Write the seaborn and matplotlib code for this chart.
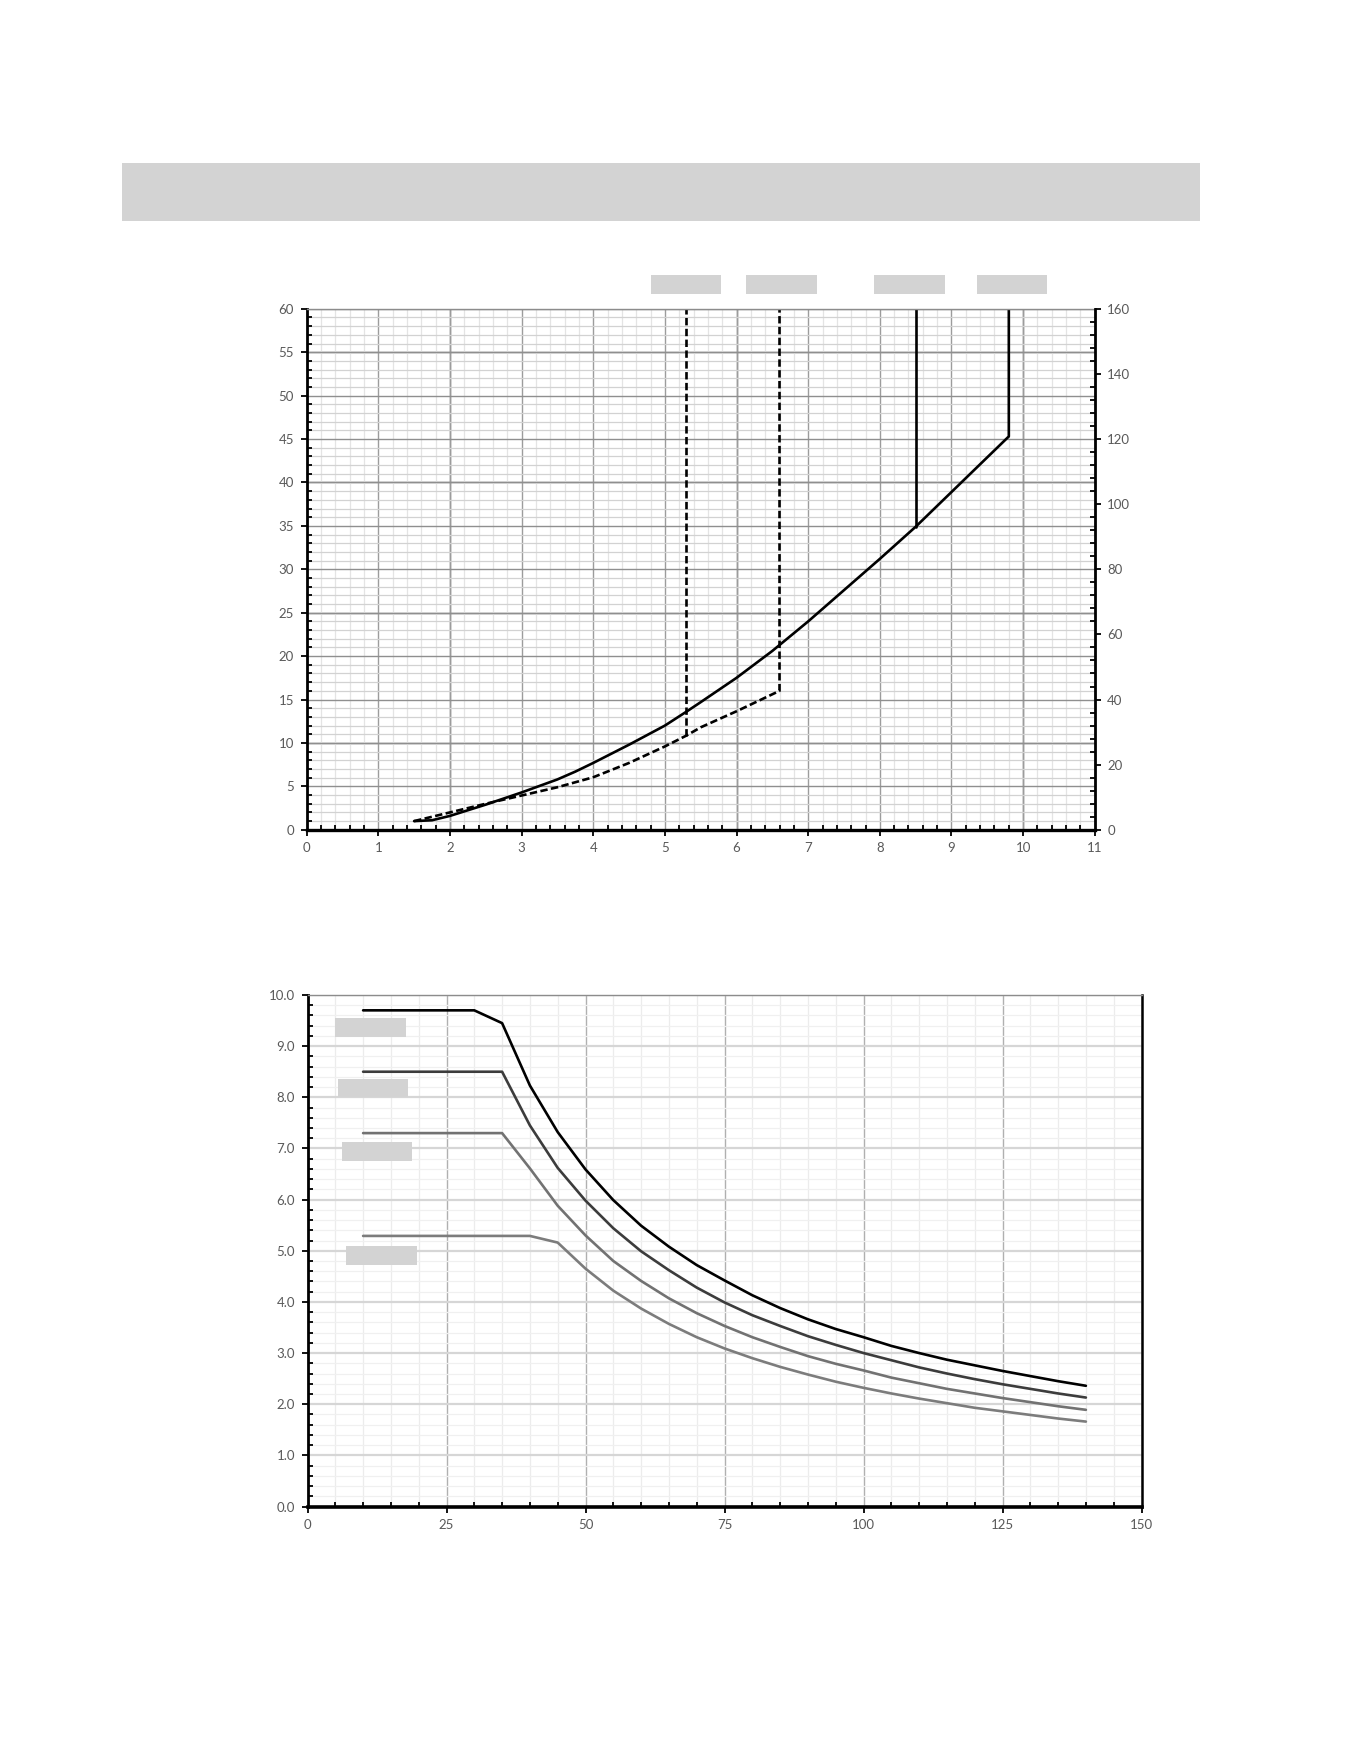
import numpy as np
import pandas as pd
import matplotlib
matplotlib.use("Agg")
import matplotlib.pyplot as plt
from matplotlib.patches import Rectangle
from matplotlib.ticker import MultipleLocator, FormatStrFormatter
import seaborn as sns

# ---- top chart data (left axis units) ----
solid_x = [1.5, 1.75, 2.0, 2.5, 3.0, 3.5, 3.75, 4.0, 4.5, 5.0, 5.3, 5.5, 6.0, 6.5, 7.0, 7.5, 8.0, 8.5, 9.0, 9.5, 9.8, 9.8]
solid_y = [1.0, 1.1, 1.6, 2.9, 4.3, 5.8, 6.7, 7.7, 9.8, 12.0, 13.6, 14.7, 17.5, 20.6, 24.0, 27.6, 31.2, 34.9, 38.9, 42.9, 45.3, 60.0]
dash_x = [1.5, 2.0, 2.5, 3.0, 3.5, 4.0, 4.5, 5.0, 5.3, 5.5, 6.0, 6.6, 6.6]
dash_y = [1.0, 2.0, 3.0, 3.95, 4.9, 6.05, 7.7, 9.6, 10.85, 11.8, 13.65, 16.0, 60.0]
# vertical branches leaving the curves
branch_dash_x = [5.3, 5.3]
branch_dash_y = [10.85, 60.0]
branch_solid_x = [8.5, 8.5]
branch_solid_y = [34.9, 60.0]

# ---- bottom chart data ----
s1_x = [10, 30, 35, 40, 45, 50, 55, 60, 65, 70, 75, 80, 85, 90, 95, 100, 105, 110, 115, 120, 125, 130, 135, 140]
s1_y = [9.70, 9.70, 9.45, 8.23, 7.32, 6.59, 5.99, 5.49, 5.08, 4.72, 4.42, 4.13, 3.88, 3.66, 3.47, 3.31, 3.14,
        3.00, 2.87, 2.76, 2.65, 2.55, 2.45, 2.36]
s2_x = [10, 35, 40, 45, 50, 55, 60, 65, 70, 75, 80, 85, 90, 95, 100, 105, 110, 115, 120, 125, 130, 135, 140]
s2_y = [8.50, 8.50, 7.45, 6.62, 5.98, 5.44, 4.99, 4.62, 4.28, 3.99, 3.74, 3.53, 3.33, 3.16, 3.00, 2.86, 2.72,
        2.60, 2.49, 2.39, 2.30, 2.21, 2.13]
s3_x = [10, 35, 40, 45, 50, 55, 60, 65, 70, 75, 80, 85, 90, 95, 100, 105, 110, 115, 120, 125, 130, 135, 140]
s3_y = [7.30, 7.30, 6.61, 5.88, 5.30, 4.80, 4.41, 4.07, 3.78, 3.53, 3.31, 3.12, 2.94, 2.79, 2.66, 2.52, 2.41,
        2.30, 2.21, 2.12, 2.04, 1.96, 1.89]
s4_x = [10, 40, 45, 50, 55, 60, 65, 70, 75, 80, 85, 90, 95, 100, 105, 110, 115, 120, 125, 130, 135, 140]
s4_y = [5.29, 5.29, 5.16, 4.65, 4.22, 3.87, 3.57, 3.31, 3.09, 2.90, 2.73, 2.58, 2.44, 2.32, 2.21, 2.11, 2.02,
        1.93, 1.86, 1.79, 1.72, 1.66]

sns.set_theme(style="white")
plt.rcParams["font.family"] = ["Lato", "DejaVu Sans"]

W, H = 1361, 1761
fig = plt.figure(figsize=(W / 100, H / 100), dpi=100)


def fig_rect(x0, y0, x1, y1):
    # pixel box (top-left origin) -> figure fraction [l, b, w, h]
    return [x0 / W, 1 - y1 / H, (x1 - x0) / W, (y1 - y0) / H]


# redacted header / label boxes
box_color = "#d3d3d3"
for (x0, y0, x1, y1) in [(122, 163, 1200, 221),
                         (651, 275, 721, 294), (746, 275, 817, 294),
                         (874, 275, 945, 294), (977, 275, 1047, 294),
                         (335, 1018, 406, 1037), (338, 1079, 408, 1097),
                         (342, 1142, 412, 1161), (346, 1246, 417, 1265)]:
    l, b, w, h = fig_rect(x0, y0, x1, y1)
    fig.add_artist(Rectangle((l, b), w, h, transform=fig.transFigure,
                             facecolor=box_color, edgecolor="none"))

label_col = "#595959"
lw = 1.9
fs = 9.5

# ================= top chart =================
ax1 = fig.add_axes(fig_rect(306.6, 308.8, 1094.8, 829.8))
ax1r = ax1.twinx()

ax1.set_xlim(0, 11)
ax1.set_ylim(0, 60)
ax1r.set_ylim(0, 160)
ax1.xaxis.set_major_locator(MultipleLocator(1))
ax1.xaxis.set_minor_locator(MultipleLocator(0.2))
ax1.yaxis.set_major_locator(MultipleLocator(5))
ax1.yaxis.set_minor_locator(MultipleLocator(1))
ax1r.yaxis.set_major_locator(MultipleLocator(20))
ax1r.yaxis.set_minor_locator(MultipleLocator(4))

ax1.set_axisbelow(True)
ax1.xaxis.grid(True, which="minor", color="#e4e4e4", lw=0.9)
ax1.yaxis.grid(True, which="minor", color="#d2d2d2", lw=0.9)
ax1.xaxis.grid(True, which="major", color="#9c9c9c", lw=1.0)
ax1.yaxis.grid(True, which="major", color="#8f8f8f", lw=1.0)
for xv in [2, 6, 10]:
    ax1.axvline(xv, color="#707070", lw=1.0, zorder=0.5)
for yv in [10, 25, 40, 55]:
    ax1.axhline(yv, color="#6a6a6a", lw=1.0, zorder=0.5)

top_df = pd.DataFrame({"x": solid_x, "y": solid_y})
dash_df = pd.DataFrame({"x": dash_x, "y": dash_y})
sns.lineplot(data=top_df, x="x", y="y", ax=ax1, sort=False, estimator=None,
             color="black", lw=lw)
sns.lineplot(data=dash_df, x="x", y="y", ax=ax1, sort=False, estimator=None,
             color="black", lw=lw, dashes=False, linestyle=(0, (2.8, 1.3)))
ax1.plot(branch_dash_x, branch_dash_y, color="black", lw=lw, linestyle=(0, (2.8, 1.3)))
ax1.plot(branch_solid_x, branch_solid_y, color="black", lw=lw)

ax1.set_xlabel("")
ax1.set_ylabel("")
ax1r.set_ylabel("")

ax1.tick_params(axis="both", which="major", direction="out", length=4, width=1.3,
                color="black", labelcolor=label_col, labelsize=fs, pad=5)
ax1.tick_params(axis="both", which="minor", direction="in", length=3.5, width=1.3, color="black")
ax1.tick_params(axis="y", which="both", left=True, right=False)
ax1.tick_params(axis="x", which="both", bottom=True, top=False)
ax1r.tick_params(axis="y", which="major", direction="out", length=4, width=1.3,
                 color="black", labelcolor=label_col, labelsize=fs, pad=5)
ax1r.tick_params(axis="y", which="minor", direction="in", length=3.5, width=1.3, color="black")

for sp in ["left", "bottom"]:
    ax1.spines[sp].set_color("black")
ax1.spines["left"].set_linewidth(2.0)
ax1.spines["bottom"].set_linewidth(2.4)
ax1.spines["top"].set_color("#8c8c8c")
ax1.spines["top"].set_linewidth(1.0)
ax1.spines["right"].set_visible(False)
for sp in ["left", "bottom", "top"]:
    ax1r.spines[sp].set_visible(False)
ax1r.spines["right"].set_color("black")
ax1r.spines["right"].set_linewidth(2.0)

# ================= bottom chart =================
ax2 = fig.add_axes(fig_rect(307.5, 995, 1141.5, 1506.5))

rows = []
for name, xs, ys in [("s1", s1_x, s1_y), ("s2", s2_x, s2_y),
                     ("s3", s3_x, s3_y), ("s4", s4_x, s4_y)]:
    rows.append(pd.DataFrame({"x": xs, "y": ys, "series": name}))
bot_df = pd.concat(rows, ignore_index=True)

palette = {"s1": "#000000", "s2": "#3c3c3c", "s3": "#727272", "s4": "#7c7c7c"}
sns.lineplot(data=bot_df, x="x", y="y", hue="series", palette=palette, ax=ax2,
             sort=False, estimator=None, lw=lw, legend=False)

ax2.set_xlim(0, 150)
ax2.set_ylim(0, 10)
ax2.xaxis.set_major_locator(MultipleLocator(25))
ax2.xaxis.set_minor_locator(MultipleLocator(5))
ax2.yaxis.set_major_locator(MultipleLocator(1))
ax2.yaxis.set_minor_locator(MultipleLocator(0.2))
ax2.yaxis.set_major_formatter(FormatStrFormatter("%.1f"))

ax2.set_axisbelow(True)
ax2.xaxis.grid(True, which="minor", color="#ececec", lw=0.9)
ax2.yaxis.grid(True, which="minor", color="#f0f0f0", lw=0.9)
ax2.xaxis.grid(True, which="major", color="#b0b0b0", lw=1.0)
ax2.yaxis.grid(True, which="major", color="#d6d6d6", lw=1.6)

ax2.set_xlabel("")
ax2.set_ylabel("")
ax2.tick_params(axis="both", which="major", direction="out", length=4, width=1.3,
                color="black", labelcolor=label_col, labelsize=fs, pad=5)
ax2.tick_params(axis="both", which="minor", direction="in", length=3.5, width=1.3, color="black")
ax2.tick_params(axis="y", which="both", left=True, right=False)
ax2.tick_params(axis="x", which="both", bottom=True, top=False)

ax2.spines["left"].set_color("black")
ax2.spines["left"].set_linewidth(2.0)
ax2.spines["bottom"].set_color("black")
ax2.spines["bottom"].set_linewidth(2.6)
ax2.spines["right"].set_color("black")
ax2.spines["right"].set_linewidth(1.8)
ax2.spines["top"].set_color("#8c8c8c")
ax2.spines["top"].set_linewidth(1.0)

fig.savefig("out.png", dpi=100, facecolor="white")
